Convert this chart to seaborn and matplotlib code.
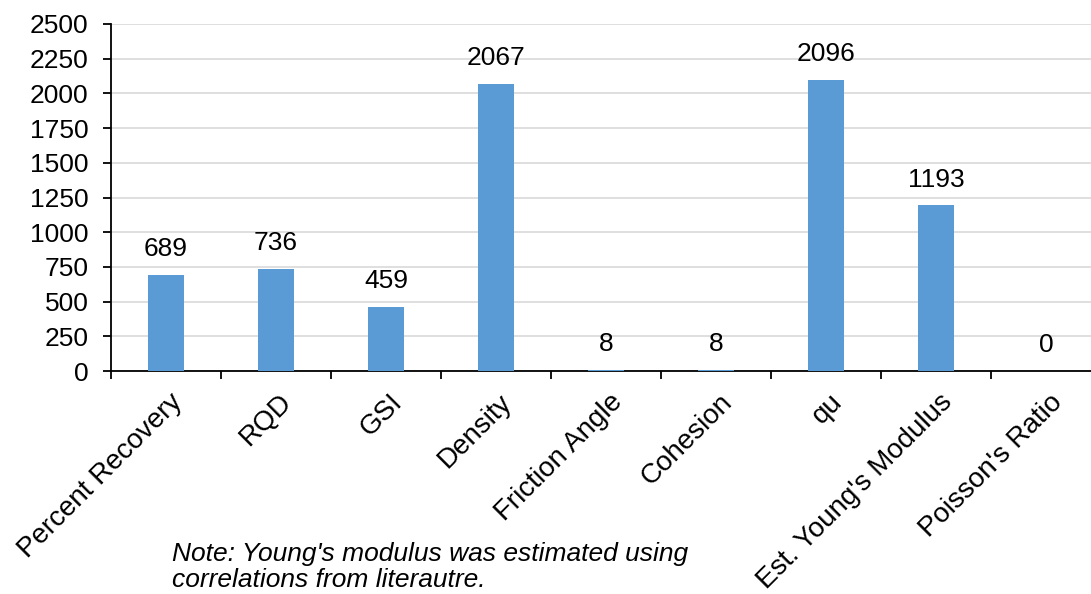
import matplotlib
matplotlib.use("Agg")
import matplotlib.pyplot as plt
import matplotlib.transforms as mtransforms
import seaborn as sns
import pandas as pd

categories = ["Percent Recovery", "RQD", "GSI", "Density", "Friction Angle",
              "Cohesion", "qu", "Est. Young's Modulus", "Poisson's Ratio"]
counts = [689, 736, 459, 2067, 8, 8, 2096, 1193, 0]
y_ticks = [0, 250, 500, 750, 1000, 1250, 1500, 1750, 2000, 2250, 2500]
note = "Note: Young's modulus was estimated using\ncorrelations from literautre."

sns.set_theme(style="white")
plt.rcParams["font.family"] = ["Liberation Sans", "DejaVu Sans"]
plt.rcParams["text.color"] = "black"
plt.rcParams["xtick.color"] = "black"
plt.rcParams["ytick.color"] = "black"

FS = 19

df = pd.DataFrame({"param": categories, "count": counts})

fig = plt.figure(figsize=(10.91, 5.94), dpi=100)
ax = fig.add_axes([0.1017, 0.3754, 0.9074, 0.5842])

sns.barplot(data=df, x="param", y="count", color="#5B9BD5", saturation=1,
            width=0.32, linewidth=0, ax=ax, zorder=3)

ax.set_xlim(-0.5, len(categories) - 0.5)
ax.set_ylim(0, 2500)
ax.set_yticks(y_ticks)
ax.set_yticklabels([str(v) for v in y_ticks], fontsize=FS)
ax.yaxis.grid(True, color="#D9D9D9", linewidth=1.2, zorder=0)
ax.set_axisbelow(True)

for s in ["top", "right"]:
    ax.spines[s].set_visible(False)
for s in ["left", "bottom"]:
    ax.spines[s].set_color("black")
    ax.spines[s].set_linewidth(1.3)

ax.tick_params(axis="y", which="major", direction="out", length=6, width=1.3,
               color="black", left=True, pad=10)
ax.set_xticks([i - 0.5 for i in range(len(categories) + 1)], minor=True)
ax.tick_params(axis="x", which="minor", direction="out", length=6, width=1.3,
               color="black", bottom=True)
ax.tick_params(axis="x", which="major", length=0, pad=13)
ax.set_xticks(range(len(categories)))
ax.set_xticklabels(categories, rotation=45, ha="right", rotation_mode="anchor",
                   fontsize=20)
shift = mtransforms.ScaledTranslation(3 / 100, 0, fig.dpi_scale_trans)
for lab in ax.get_xticklabels():
    lab.set_transform(lab.get_transform() + shift)

ax.set_xlabel("")
ax.set_ylabel("")

for i, v in enumerate(counts):
    ax.annotate(str(v), (i, v), xytext=(0, 10), textcoords="offset points",
                ha="center", va="bottom", fontsize=FS, color="black")

fig.text(172 / 1091, 1 - 567 / 594, note, fontsize=FS, style="italic",
         ha="left", va="center", linespacing=1.15)

fig.savefig("out.png", dpi=100)
